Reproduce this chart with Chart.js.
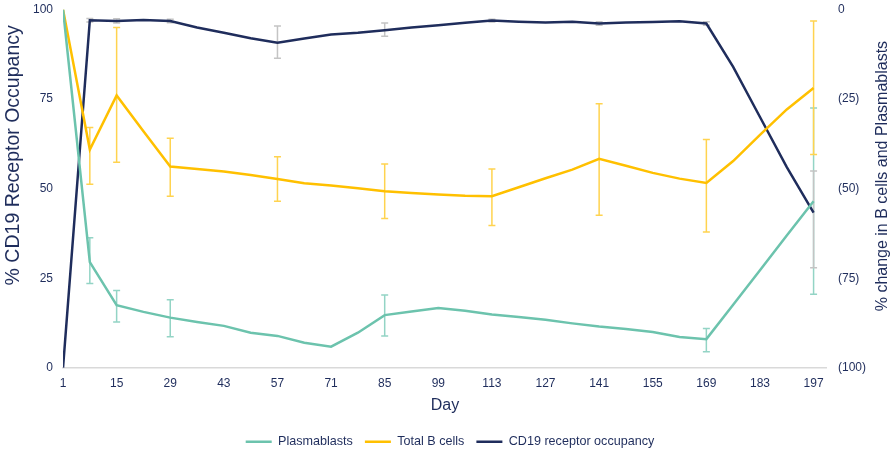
<!DOCTYPE html>
<html>
<head>
<meta charset="utf-8">
<script src="https://cdn.jsdelivr.net/npm/chart.js@4/dist/chart.umd.min.js"></script>
<style>
  body { margin: 0; background: #fff; }
  #wrap { width: 895px; height: 452px; }
</style>
</head>
<body>
<div id="wrap"><canvas id="chart"></canvas></div>
<script>
// days on the x axis
const days = [1, 8, 15, 22, 29, 36, 43, 50, 57, 64, 71, 78, 85, 92, 99, 106, 113, 120, 127, 134, 141, 148, 155, 162, 169, 176, 183, 190, 197]
const xTicks = [1, 15, 29, 43, 57, 71, 85, 99, 113, 127, 141, 155, 169, 183, 197]
const leftTicks = [0, 25, 50, 75, 100]
const rightTicks = [-100, -75, -50, -25, 0]

// % change from baseline (right axis)
const plasmablasts = [0, -70.5, -82.5, -84.4, -86.0, -87.2, -88.3, -90.2, -91.1, -93.0, -94.1, -90.2, -85.3, -84.3, -83.3, -84.1, -85.1, -85.8, -86.6, -87.6, -88.5, -89.2, -90.0, -91.4, -92.0, -82.4, -72.8, -63.1, -53.5]
const totalB = [0, -39.1, -24.0, -34.0, -43.8, -44.5, -45.2, -46.2, -47.3, -48.5, -49.1, -49.9, -50.7, -51.2, -51.6, -52.0, -52.1, -49.6, -47.1, -44.7, -41.7, -43.6, -45.6, -47.2, -48.4, -42.3, -35.0, -27.9, -21.9]
// % CD19 receptor occupancy (left axis)
const occupancy = [0, 97.0, 96.8, 97.1, 96.8, 95.0, 93.5, 92.0, 90.7, 91.9, 93.0, 93.5, 94.2, 95.0, 95.6, 96.3, 96.9, 96.6, 96.4, 96.6, 96.1, 96.4, 96.5, 96.7, 96.1, 84.0, 70.0, 56.0, 43.3]

// error bars: day, +, -
const plasmaErrDays = [8, 15, 29, 85, 169, 197]
const plasmaErrUp = [6.8, 4.1, 5.0, 5.6, 3.0, 26.0]
const plasmaErrDown = [6.0, 4.7, 5.3, 5.8, 3.5, 26.0]
const totalBErrDays = [8, 15, 29, 57, 85, 113, 141, 169, 197]
const totalBErrUp = [6.2, 19.0, 7.9, 6.2, 7.6, 7.6, 15.4, 12.1, 18.7]
const totalBErrDown = [9.7, 18.6, 8.3, 6.2, 7.6, 8.2, 15.7, 13.7, 18.6]
const occErrDays = [8, 15, 29, 57, 85, 113, 141, 169, 197]
const occErrUp = [0.5, 0.6, 0.5, 4.7, 2.0, 0.4, 0.5, 0.5, 11.6]
const occErrDown = [0.5, 0.6, 0.5, 4.3, 1.7, 0.4, 0.5, 0.5, 15.4]

const navy = '#1f2d5c'
const font = 'Liberation Sans, Arial, sans-serif'

const errorBars = [
    { ds: 0, days: plasmaErrDays, up: plasmaErrUp, down: plasmaErrDown, color: '#93d4c5' },
    { ds: 1, days: totalBErrDays, up: totalBErrUp, down: totalBErrDown, color: '#ffd34f' },
    { ds: 2, days: occErrDays, up: occErrUp, down: occErrDown, color: '#c4c4c4' }
]

const errorBarPlugin = {
    id: 'errorBars',
    beforeDatasetsDraw(chart) {
        const ctx = chart.ctx
        const xs = chart.scales.x
        ctx.save()
        ctx.lineWidth = 1.5
        errorBars.forEach(eb => {
            const ds = chart.data.datasets[eb.ds]
            const ys = chart.scales[ds.yAxisID]
            ctx.strokeStyle = eb.color
            eb.days.forEach((d, i) => {
                const v = ds.data.find(p => p.x == d).y
                const px = xs.getPixelForValue(d)
                const top = ys.getPixelForValue(v + eb.up[i])
                const bot = ys.getPixelForValue(v - eb.down[i])
                ctx.beginPath()
                ctx.moveTo(px, top); ctx.lineTo(px, bot)
                ctx.moveTo(px - 3.5, top); ctx.lineTo(px + 3.5, top)
                ctx.moveTo(px - 3.5, bot); ctx.lineTo(px + 3.5, bot)
                ctx.stroke()
            })
        })
        ctx.restore()
    }
}

// y axis titles sit a bit above the middle of the axes, as in the original
const axisTitlePlugin = {
    id: 'axisTitles',
    afterDraw(chart) {
        const ctx = chart.ctx
        const ca = chart.chartArea
        ctx.save()
        ctx.fillStyle = navy
        ctx.textAlign = 'center'
        ctx.textBaseline = 'middle'
        ctx.translate(14, ca.top + (ca.bottom - ca.top) * 0.407)
        ctx.rotate(-Math.PI / 2)
        ctx.font = '19.5px ' + font
        ctx.fillText('% CD19 Receptor Occupancy', 0, 0)
        ctx.restore()
        ctx.save()
        ctx.fillStyle = navy
        ctx.textAlign = 'center'
        ctx.textBaseline = 'middle'
        ctx.translate(883, ca.top + (ca.bottom - ca.top) * 0.465)
        ctx.rotate(-Math.PI / 2)
        ctx.font = '16px ' + font
        ctx.fillText('% change in B cells and Plasmablasts', 0, 0)
        ctx.restore()
    }
}

// vertical axes add their tick padding above and below the plot; drop it
const noVerticalPad = axis => { axis.paddingTop = 0; axis.paddingBottom = 0 }

const toPoints = arr => arr.map((v, i) => ({ x: days[i], y: v }))

new Chart(document.getElementById('chart'), {
    type: 'line',
    data: {
        datasets: [
            { label: 'Plasmablasts', data: toPoints(plasmablasts), yAxisID: 'y1', borderColor: '#6cc3ad', backgroundColor: '#6cc3ad', borderWidth: 2.5 },
            { label: 'Total B cells', data: toPoints(totalB), yAxisID: 'y1', borderColor: '#ffc000', backgroundColor: '#ffc000', borderWidth: 2.5 },
            { label: 'CD19 receptor occupancy', data: toPoints(occupancy), yAxisID: 'y', borderColor: navy, backgroundColor: navy, borderWidth: 2.5 }
        ]
    },
    options: {
        responsive: true,
        maintainAspectRatio: false,
        animation: false,
        layout: { padding: { top: 9.5, left: 23, right: 18, bottom: -6 } },
        elements: { point: { radius: 0 }, line: { tension: 0 } },
        scales: {
            x: {
                type: 'linear',
                min: 1,
                max: 200.5,
                afterBuildTicks: axis => { axis.ticks = xTicks.map(v => ({ value: v })) },
                grid: { display: false, drawTicks: false },
                border: { color: '#d9d9d9', width: 1.5 },
                ticks: { color: navy, font: { family: font, size: 12 }, padding: 9, maxRotation: 0, autoSkip: false },
                title: { display: true, text: 'Day', color: navy, font: { family: font, size: 16 }, padding: { top: -4, bottom: 8 } }
            },
            y: {
                position: 'left',
                min: 0,
                max: 100,
                afterBuildTicks: axis => { axis.ticks = leftTicks.map(v => ({ value: v })) },
                afterFit: noVerticalPad,
                grid: { display: false, drawTicks: false },
                border: { display: false },
                ticks: { color: navy, font: { family: font, size: 12 }, padding: 10 }
            },
            y1: {
                position: 'right',
                min: -100,
                max: 0,
                afterBuildTicks: axis => { axis.ticks = rightTicks.map(v => ({ value: v })) },
                afterFit: noVerticalPad,
                grid: { display: false, drawTicks: false },
                border: { display: false },
                ticks: { color: navy, font: { family: font, size: 12 }, padding: 11, callback: v => v < 0 ? '(' + (-v) + ')' : String(v) }
            }
        },
        plugins: {
            legend: {
                position: 'bottom',
                labels: { usePointStyle: true, pointStyle: 'line', pointStyleWidth: 26, color: navy, font: { family: font, size: 12.6 }, padding: 12 }
            },
            tooltip: { enabled: false }
        }
    },
    plugins: [errorBarPlugin, axisTitlePlugin]
})
</script>
</body>
</html>
